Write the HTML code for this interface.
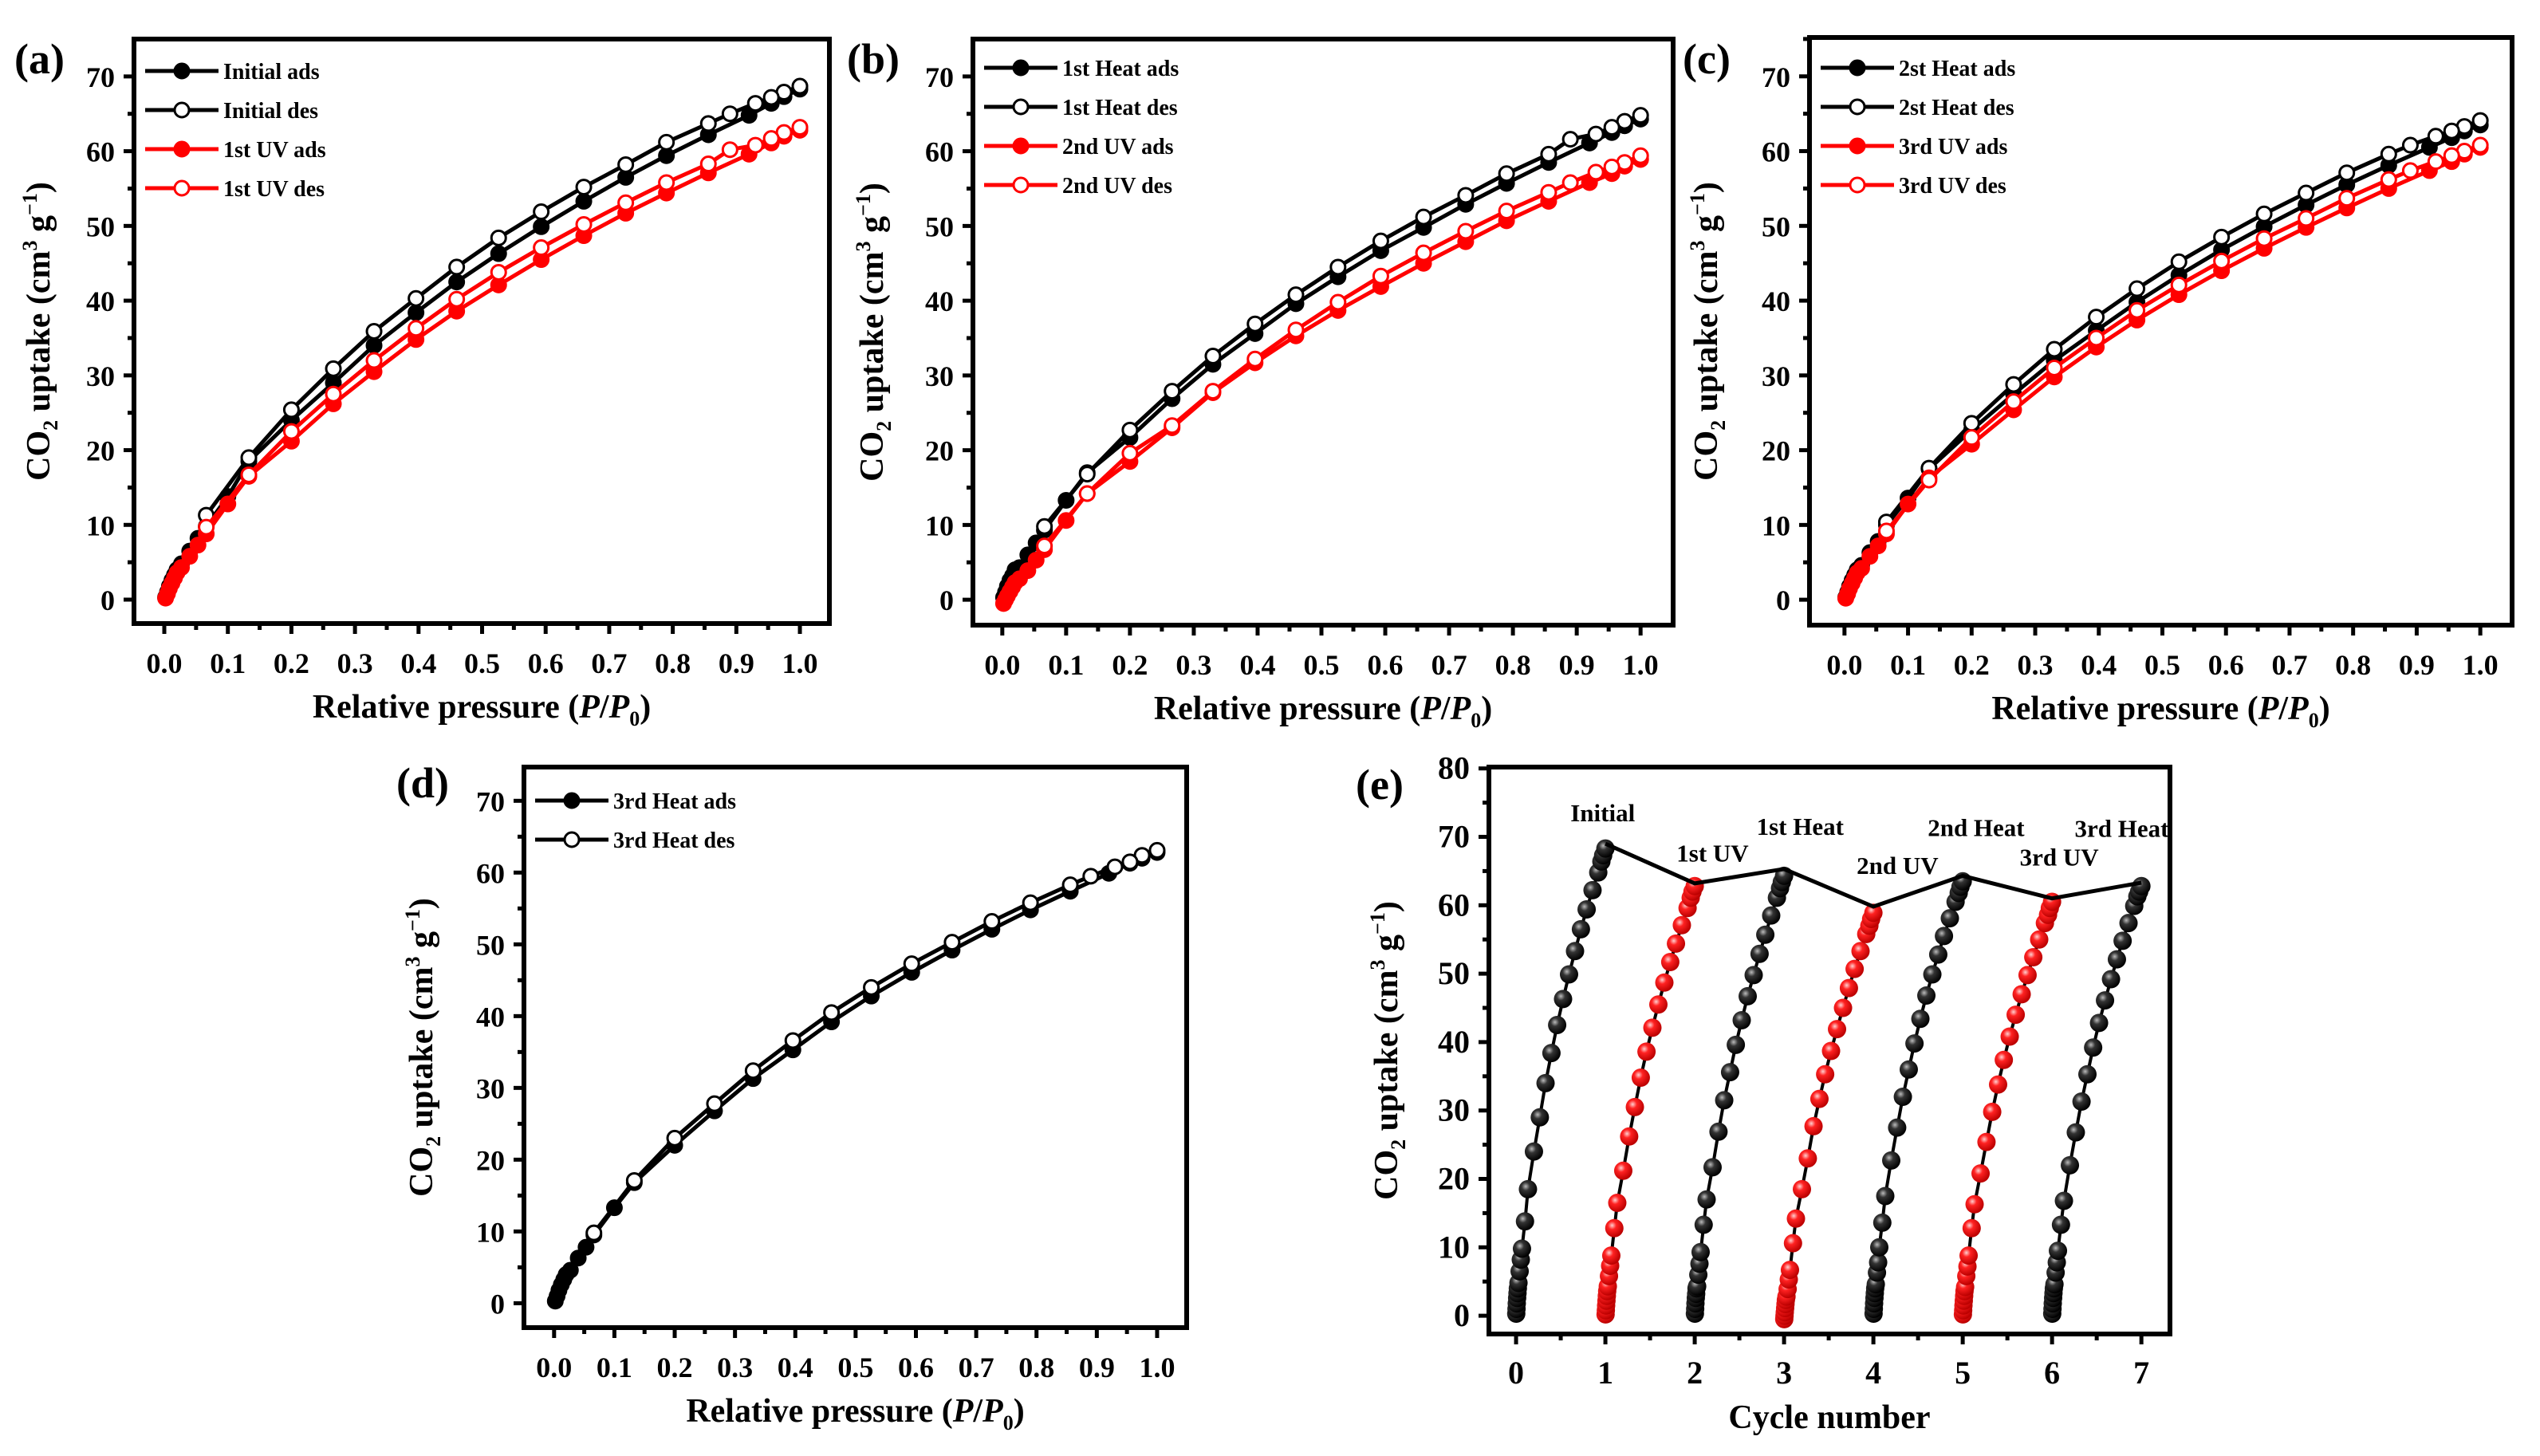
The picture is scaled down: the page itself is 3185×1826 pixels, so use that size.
<!DOCTYPE html>
<html><head><meta charset="utf-8"><style>
html,body{margin:0;padding:0;background:#fff;}
svg{display:block;font-family:"Liberation Serif","Times New Roman",serif;font-weight:bold;}
svg text{font-family:"Liberation Serif","Times New Roman",serif;font-weight:bold;}
</style></head><body>
<svg id="fig" xmlns="http://www.w3.org/2000/svg" width="3185" height="1826" viewBox="0 0 3185 1826" font-family="Liberation Serif, serif" font-weight="bold">
<defs>
<radialGradient id="gBlack" cx="0.38" cy="0.35" r="0.65"><stop offset="0" stop-color="#bbb"/><stop offset="0.35" stop-color="#333"/><stop offset="1" stop-color="#000"/></radialGradient>
<radialGradient id="gRed" cx="0.38" cy="0.35" r="0.65"><stop offset="0" stop-color="#ffd0d0"/><stop offset="0.35" stop-color="#f22"/><stop offset="1" stop-color="#b00"/></radialGradient>
</defs>
</svg>
<script>
// ---- shared pressure points ----
const xAds=[0.002,0.005,0.008,0.012,0.016,0.02,0.027,0.04,0.053,0.066,0.1,0.133,0.2,0.266,0.33,0.396,0.46,0.526,0.593,0.66,0.726,0.79,0.856,0.92,0.955,0.975,1.0];
const xDes=[1,0.975,0.955,0.93,0.89,0.856,0.79,0.726,0.66,0.593,0.526,0.46,0.396,0.33,0.266,0.2,0.133,0.066];
// ---- panel (a) ----
const initAds=[0.3,1,1.8,2.6,3.3,4,4.8,6.5,8.2,9.8,13.8,18.5,24,29,34,38.4,42.5,46.3,49.9,53.3,56.5,59.4,62.2,64.8,66.4,67.3,68.3];
const initDes=[68.7,67.9,67.2,66.4,65.0,63.7,61.2,58.2,55.2,51.9,48.4,44.5,40.3,35.9,30.9,25.4,19.0,11.3];
const uv1Ads=[0.2,0.8,1.5,2.2,2.9,3.6,4.3,5.8,7.3,8.8,12.8,16.5,21.2,26.2,30.5,34.8,38.6,42.1,45.5,48.7,51.7,54.4,57.1,59.6,61.1,62.0,62.8];
const uv1Des=[63.2,62.5,61.7,60.8,60.2,58.3,55.8,53.1,50.2,47.1,43.8,40.2,36.3,32.0,27.5,22.5,16.7,9.7];
// ---- panel (b) ----
const heat1Ads=[0.3,1,1.8,2.6,3.2,4,4.3,6,7.6,9.3,13.3,17,21.7,26.9,31.5,35.6,39.6,43.2,46.7,49.8,52.9,55.7,58.5,61.1,62.5,63.4,64.3];
const heat1Des=[64.8,64,63.2,62.3,61.6,59.6,57,54.1,51.2,48,44.5,40.8,36.9,32.6,27.9,22.7,16.8,9.8];
const uv2Ads=[-0.5,0,0.5,1.1,1.7,2.3,2.8,3.9,5.3,6.7,10.6,14.2,18.5,23,27.7,31.7,35.3,38.7,41.9,45,47.9,50.7,53.3,55.8,57,58,58.9];
const uv2Des=[59.4,58.5,57.9,57.2,55.8,54.5,52,49.3,46.4,43.3,39.8,36.1,32.2,27.9,23.3,19.6,14.2,7.2];
// ---- panel (c) ----
const heat2Ads=[0.3,1,1.8,2.6,3.3,4,4.6,6.3,7.8,10,13.6,17.5,22.7,27.5,32,36,39.8,43.4,46.8,49.9,52.8,55.5,58.1,60.5,61.8,62.7,63.5];
const heat2Des=[64.1,63.3,62.7,62,60.8,59.6,57.1,54.4,51.6,48.5,45.2,41.6,37.8,33.5,28.8,23.6,17.6,10.4];
const uv3Ads=[0.2,0.8,1.5,2.2,2.9,3.6,4.2,5.8,7.2,8.8,12.8,16.3,20.8,25.4,29.8,33.8,37.4,40.8,44,47,49.8,52.4,55,57.4,58.6,59.6,60.5];
const uv3Des=[60.8,60,59.4,58.6,57.4,56.2,53.7,51,48.3,45.3,42.1,38.7,35,31,26.5,21.7,16,9.2];
// ---- panel (d) ----
const heat3Ads=[0.3,1,1.8,2.6,3.3,4,4.6,6.3,7.8,9.5,13.3,16.8,22,26.8,31.3,35.3,39.2,42.8,46.1,49.2,52.1,54.8,57.4,59.9,61.3,62,62.8];
const heat3Des=[63.1,62.4,61.5,60.8,59.5,58.3,55.8,53.2,50.3,47.3,44,40.5,36.6,32.4,27.8,23,17.1,9.8];
// ---- panel (e) ----
const cycleNames=["Initial","1st UV","1st Heat","2nd UV","2nd Heat","3rd UV","3rd Heat"];
const cyclePeaks=[69,63.2,65.3,59.8,64.3,61,63.3];
const xTickLabels=["0.0","0.1","0.2","0.3","0.4","0.5","0.6","0.7","0.8","0.9","1.0"];
const yTickLabels=["0","10","20","30","40","50","60","70"];
const eXTicks=["0","1","2","3","4","5","6","7"];
const eYTicks=["0","10","20","30","40","50","60","70","80"];

const NS="http://www.w3.org/2000/svg";
const FONT='"Liberation Serif", serif';
const svg=document.getElementById('fig');
function mk(tag,attrs,parent){const e=document.createElementNS(NS,tag);for(const k in attrs)e.setAttribute(k,attrs[k]);if(tag==='text'){e.setAttribute('font-family',FONT);e.setAttribute('font-weight','bold');}(parent||svg).appendChild(e);return e;}

function makeAxes(c){
  const g=mk('g',{});
  
  
  const sx=v=>c.L+(v-c.xmin)/(c.xmax-c.xmin)*(c.R-c.L);
  const sy=v=>c.B-(v-c.ymin)/(c.ymax-c.ymin)*(c.B-c.T);
  const fr=mk('rect',{x:c.L,y:c.T,width:c.R-c.L,height:c.B-c.T,fill:'none',stroke:'#000','stroke-width':6},g);
  
  
  c.xt.forEach((lab,i)=>{const v=c.xv(i);const x=sx(v);
    mk('line',{x1:x,y1:c.B,x2:x,y2:c.B+13,stroke:'#000','stroke-width':5},g);
    const t=mk('text',{x:x,y:c.B+62,'font-size':c.tfs,'text-anchor':'middle'},g);t.textContent=lab;
    
    
    if(i<c.xt.length-1){const m=sx(v+c.xstep/2);mk('line',{x1:m,y1:c.B,x2:m,y2:c.B+8,stroke:'#000','stroke-width':5},g);}
  });
  c.yt.forEach((lab,i)=>{const v=+lab;const y=sy(v);
    mk('line',{x1:c.L,y1:y,x2:c.L-13,y2:y,stroke:'#000','stroke-width':5},g);
    const t=mk('text',{x:c.L-24,y:y+13,'font-size':c.tfs,'text-anchor':'end'},g);t.textContent=lab;
    
    
    const m=sy(v+5);if(v+5<c.ymax)mk('line',{x1:c.L,y1:m,x2:c.L-8,y2:m,stroke:'#000','stroke-width':5},g);
  });
  const pl=mk('text',{x:c.plx,y:c.ply,'font-size':54},g);pl.textContent='('+c.id+')';
  
  
  const xt=mk('text',{x:(c.L+c.R)/2,y:c.B+118,'font-size':42,'text-anchor':'middle'},g);
  if(c.xtitle){xt.textContent=c.xtitle;}else{xt.innerHTML='Relative pressure (<tspan font-style="italic">P</tspan>/<tspan font-style="italic">P</tspan><tspan font-size="26" dy="10">0</tspan><tspan dy="-10">)</tspan>';}
  
  
  const cy=(c.T+c.B)/2;
  const yt=mk('text',{x:c.ytx,y:cy,'font-size':42,'text-anchor':'middle',transform:'rotate(-90 '+c.ytx+' '+cy+')'},g);
  yt.innerHTML='CO<tspan font-size="26" dy="10">2</tspan><tspan dy="-10"> uptake (cm</tspan><tspan font-size="26" dy="-16">3</tspan><tspan dy="16"> g</tspan><tspan font-size="26" dy="-16">−1</tspan><tspan dy="16">)</tspan>';
  
  
  return {g,sx,sy};
}

function isoPanel(c,series){
  c.xt=xTickLabels;c.xv=i=>i/10;c.xstep=0.1;c.yt=yTickLabels;c.tfs=36;
  const A=makeAxes(c);
  series.forEach(s=>{
    const xs=s.des?xDes:xAds;
    const pts=xs.map((x,i)=>A.sx(x).toFixed(1)+','+A.sy(s.y[i]).toFixed(1)).join(' ');
    const ln=mk('polyline',{points:pts,fill:'none',stroke:s.col,'stroke-width':5,'stroke-linejoin':'round'},A.g);
    
    
    xs.forEach((x,i)=>{
      const p=mk('circle',{cx:A.sx(x),cy:A.sy(s.y[i]),r:9,fill:s.des?'#fff':s.col,stroke:s.col,'stroke-width':3},A.g);
      
      
    });
  });
  series.forEach((s,i)=>{
    const y=c.T+c.lgy+i*49, x0=c.L+14;
    const lg=mk('g',{},A.g);
    
    
    mk('line',{x1:x0,y1:y,x2:x0+92,y2:y,stroke:s.col,'stroke-width':5},lg);
    mk('circle',{cx:x0+46,cy:y,r:9,fill:s.des?'#fff':s.col,stroke:s.col,'stroke-width':3},lg);
    const t=mk('text',{x:x0+98,y:y+10,'font-size':28},lg);t.textContent=s.name;
  });
}

isoPanel({id:'a',L:168,R:1040,T:49,B:782,xmin:-0.0477,xmax:1.0464,ymin:-3.2,ymax:75,plx:18,ply:92,ytx:62,lgy:40},[
 {name:'Initial ads',y:initAds,col:'#000'},{name:'Initial des',y:initDes,col:'#000',des:1},
 {name:'1st UV ads',y:uv1Ads,col:'#f00'},{name:'1st UV des',y:uv1Des,col:'#f00',des:1}]);
isoPanel({id:'b',L:1220,R:2098,T:49,B:784,xmin:-0.046,xmax:1.051,ymin:-3.4,ymax:75,plx:1062,ply:92,ytx:1107,lgy:36},[
 {name:'1st Heat ads',y:heat1Ads,col:'#000'},{name:'1st Heat des',y:heat1Des,col:'#000',des:1},
 {name:'2nd UV ads',y:uv2Ads,col:'#f00'},{name:'2nd UV des',y:uv2Des,col:'#f00',des:1}]);
isoPanel({id:'c',L:2269,R:3150,T:47,B:784,xmin:-0.055,xmax:1.05,ymin:-3.4,ymax:75.2,plx:2110,ply:92,ytx:2153,lgy:38},[
 {name:'2st Heat ads',y:heat2Ads,col:'#000'},{name:'2st Heat des',y:heat2Des,col:'#000',des:1},
 {name:'3rd UV ads',y:uv3Ads,col:'#f00'},{name:'3rd UV des',y:uv3Des,col:'#f00',des:1}]);
isoPanel({id:'d',L:657,R:1488,T:962,B:1665,xmin:-0.05,xmax:1.049,ymin:-3.4,ymax:74.7,plx:497,ply:1000,ytx:542,lgy:42},[
 {name:'3rd Heat ads',y:heat3Ads,col:'#000'},{name:'3rd Heat des',y:heat3Des,col:'#000',des:1}]);

(function(){
  const c={id:'e',L:1867,R:2721,T:962,B:1673,xmin:-0.304,xmax:7.32,ymin:-2.67,ymax:80.2,plx:1700,ply:1002,ytx:1752,
    xt:eXTicks,xv:i=>i,xstep:1,yt:eYTicks,tfs:40,xtitle:'Cycle number'};
  const A=makeAxes(c);
  const cycles=[initAds,uv1Ads,heat1Ads,uv2Ads,heat2Ads,uv3Ads,heat3Ads];
  cycles.forEach((ys,k)=>{
    const pts=xAds.map((x,i)=>A.sx(k+x).toFixed(1)+','+A.sy(ys[i]).toFixed(1)).join(' ');
    const ln=mk('polyline',{points:pts,fill:'none',stroke:'#000','stroke-width':4},A.g);
    
    
    xAds.forEach((x,i)=>{
      const b=mk('circle',{cx:A.sx(k+x),cy:A.sy(ys[i]),r:11.5,fill:k%2?'url(#gRed)':'url(#gBlack)'},A.g);
      
      
    });
  });
  const pk=cyclePeaks.map((v,k)=>A.sx(k+1).toFixed(1)+','+A.sy(v).toFixed(1)).join(' ');
  const pl=mk('polyline',{points:pk,fill:'none',stroke:'#000','stroke-width':5},A.g);
  
  
  const lx=[0.97,2.2,3.18,4.27,5.15,6.08,6.78], ly=[72.3,66.4,70.3,64.6,70.1,65.8,70.0];
  cycleNames.forEach((n,k)=>{
    const t=mk('text',{x:A.sx(lx[k]),y:A.sy(ly[k]),'font-size':31,'text-anchor':'middle'},A.g);t.textContent=n;
    
    
  });
})();
</script>
</body></html>
